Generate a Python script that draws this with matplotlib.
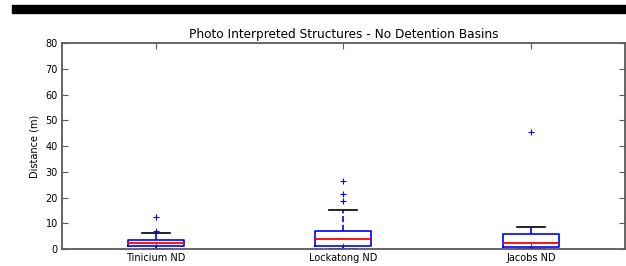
import matplotlib
matplotlib.use("Agg")
import matplotlib.pyplot as plt
from matplotlib.patches import Rectangle

labels = ["Tinicium ND", "Lockatong ND", "Jacobs ND"]
q1 = [1.3, 1.2, 0.9]
med = [2.4, 4.0, 2.4]
q3 = [3.5, 7.1, 5.7]
whislo = [0.0, 0.0, 0.0]
whishi = [6.1, 15.0, 8.5]
fliers = [[7.1, 12.4], [18.8, 21.5, 26.3], [45.6]]

stats = []
for i in range(len(labels)):
    stats.append(dict(label=labels[i], q1=q1[i], med=med[i], q3=q3[i],
                      whislo=whislo[i], whishi=whishi[i], fliers=fliers[i]))

plt.rcParams['font.family'] = 'DejaVu Sans'
fig = plt.figure(figsize=(6.26, 2.66), dpi=100)
ax = fig.add_axes([0.099, 0.064, 0.899, 0.774])

ax.bxp(stats, widths=0.3,
       boxprops=dict(color='blue', linewidth=1.2),
       medianprops=dict(color='red', linewidth=1.3),
       whiskerprops=dict(color='blue', linestyle='--', linewidth=1.2),
       capprops=dict(color='black', linewidth=1.2),
       flierprops=dict(marker='+', markeredgecolor='blue', markersize=5,
                       markeredgewidth=0.8, linestyle='none'))

ax.set_xlim(0.5, 3.5)
ax.set_ylim(0, 80)
ax.set_yticks(range(0, 81, 10))
for s in ax.spines.values():
    s.set_color('0.35')
    s.set_linewidth(1.3)
ax.tick_params(direction='in', top=True, right=True, labelsize=7, length=4, pad=3,
               color='0.35')
ax.set_ylabel('Distance (m)', fontsize=7)
ax.set_title('Photo Interpreted Structures - No Detention Basins', fontsize=8.7, pad=4)

fig.patches.append(Rectangle((12 / 626, 1 - 13 / 266), 1, 8 / 266,
                             transform=fig.transFigure, color='black', zorder=10))

fig.savefig('out.png', dpi=100)
